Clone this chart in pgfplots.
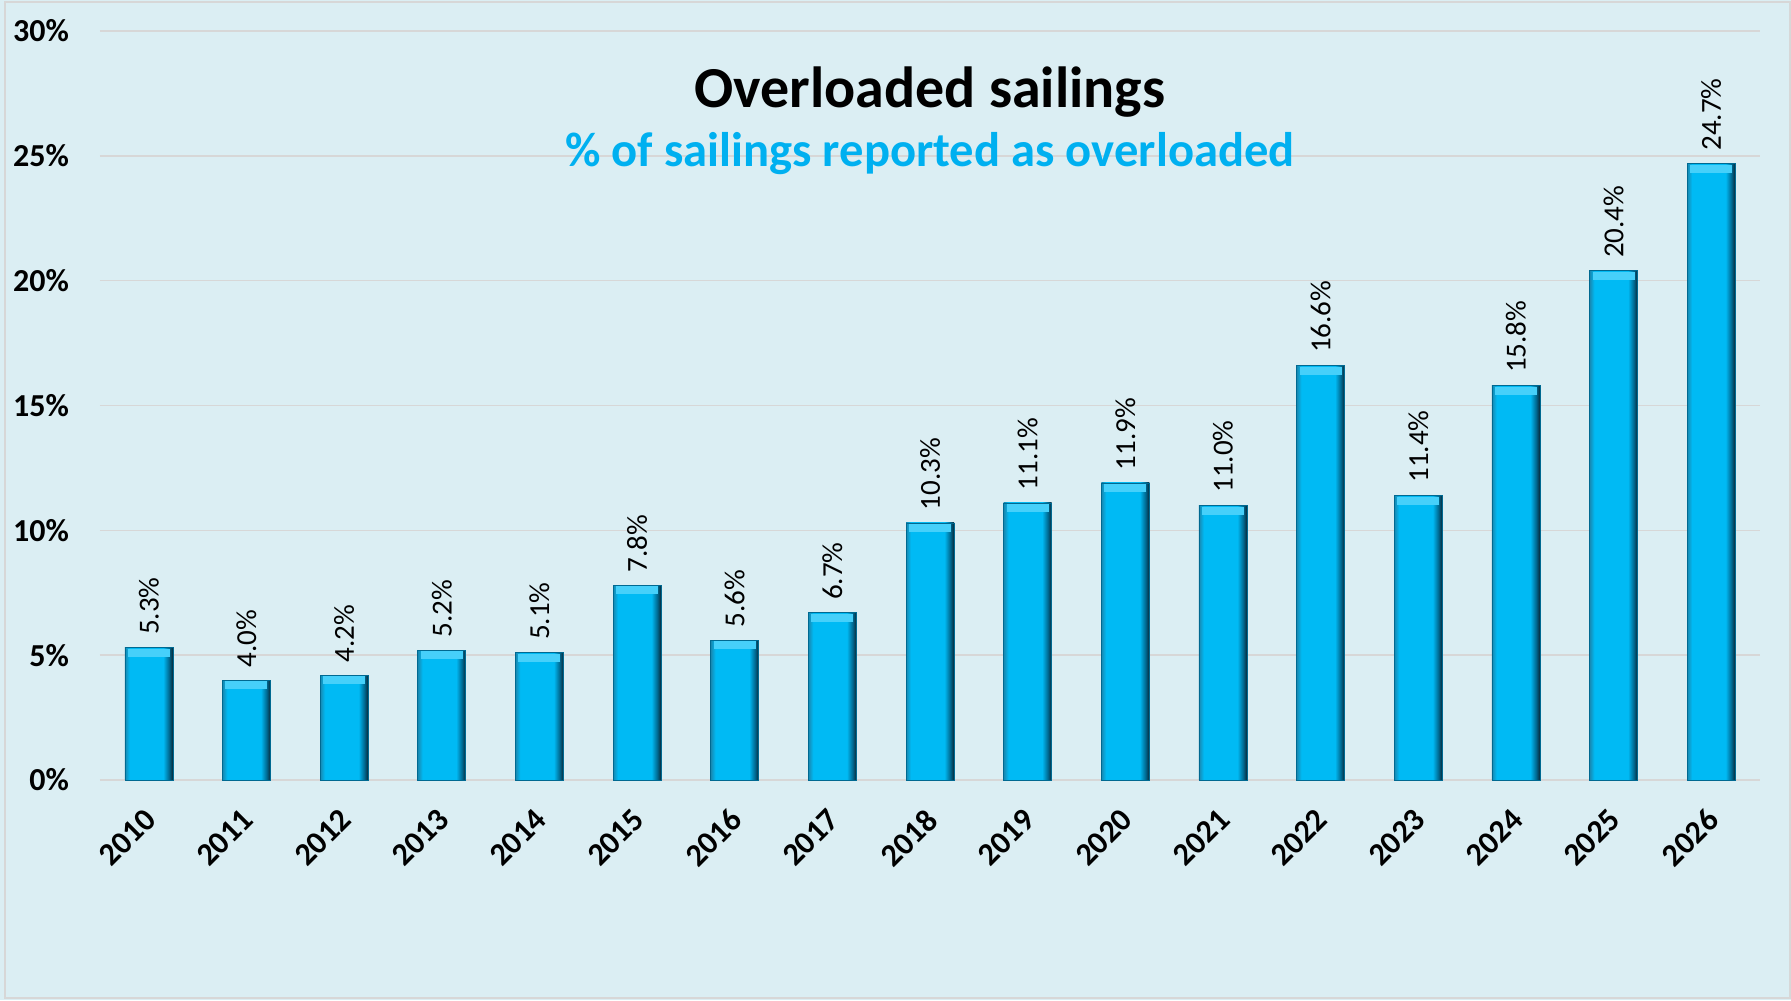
\documentclass[border=0pt]{standalone}
\usepackage{fontspec}
\setmainfont{Carlito}
\usepackage{pgfplots}
\pgfplotsset{compat=1.18}
\definecolor{bgc}{RGB}{219,238,243}
\definecolor{gridc}{RGB}{215,215,215}
\definecolor{cyanT}{RGB}{0,176,240}
\definecolor{barL}{RGB}{25,135,175}
\definecolor{barM}{RGB}{0,186,244}
\definecolor{barD}{RGB}{0,105,145}
\definecolor{barK}{RGB}{8,40,55}
\definecolor{barTop}{RGB}{70,208,250}
\pgfdeclarehorizontalshading{barshade}{100bp}{color(0bp)=(barL); color(25bp)=(barL); color(30bp)=(barM); color(65bp)=(barM); color(71bp)=(barD); color(75bp)=(barK); color(100bp)=(barK)}
\pgfplotsset{mybar/.style={ybar, bar width=24pt, bar shift=0pt, shading=barshade, draw=barD, line width=0.3pt,
  mark=-, mark size=10.5pt, mark options={solid, draw=barTop, line width=4pt, yshift=-2.6pt},
  nodes near coords={\pgfmathprintnumber[fixed,fixed zerofill,precision=1]{\pgfplotspointmeta}\%},
  nodes near coords style={font=\fontsize{14.5}{16}\selectfont, black, yshift=6pt, rotate=90, anchor=west, inner sep=1pt}}}
\begin{document}
\begin{tikzpicture}
\fill[bgc] (-50pt,-110pt) rectangle (845.5pt,390pt);
\useasboundingbox (-50pt,-110pt) rectangle (845.5pt,390pt);
\draw[gridc, line width=1pt] (-47.5pt,-109pt) rectangle (845pt,389pt);
\begin{axis}[
  at={(0,0)}, anchor=south west,
  width=830pt, height=374.5pt, scale only axis,
  xmin=-0.5, xmax=16.5, ymin=0, ymax=30,
  xtick={0,1,2,3,4,5,6,7,8,9,10,11,12,13,14,15,16},
  xticklabels={2010,2011,2012,2013,2014,2015,2016,2017,2018,2019,2020,2021,2022,2023,2024,2025,2026},
  ytick={0,5,10,15,20,25,30},
  yticklabels={0\%,5\%,10\%,15\%,20\%,25\%,30\%},
  ymajorgrids, grid style={gridc, line width=0.8pt},
  axis line style={draw=none}, major tick length=0pt,
  tick label style={font=\fontsize{16}{18}\selectfont\bfseries, black},
  xticklabel style={xshift=-3pt, yshift=-8.5pt, rotate=45, anchor=north east},
  yticklabel style={xshift=-12pt},
  /pgf/number format/assume math mode=true,
  clip=false,
]
\addplot[mybar] coordinates {(0,5.3)};
\addplot[mybar] coordinates {(1,4.0)};
\addplot[mybar] coordinates {(2,4.2)};
\addplot[mybar] coordinates {(3,5.2)};
\addplot[mybar] coordinates {(4,5.1)};
\addplot[mybar] coordinates {(5,7.8)};
\addplot[mybar] coordinates {(6,5.6)};
\addplot[mybar] coordinates {(7,6.7)};
\addplot[mybar] coordinates {(8,10.3)};
\addplot[mybar] coordinates {(9,11.1)};
\addplot[mybar] coordinates {(10,11.9)};
\addplot[mybar] coordinates {(11,11.0)};
\addplot[mybar] coordinates {(12,16.6)};
\addplot[mybar] coordinates {(13,11.4)};
\addplot[mybar] coordinates {(14,15.8)};
\addplot[mybar] coordinates {(15,20.4)};
\addplot[mybar] coordinates {(16,24.7)};
\node[font=\fontsize{29}{34}\selectfont\bfseries, black] at (rel axis cs:0.5,0.918) {Overloaded sailings};
\node[font=\fontsize{24.3}{29}\selectfont\bfseries, cyanT] at (rel axis cs:0.5,0.837) {\% of sailings reported as overloaded};
\end{axis}
\end{tikzpicture}
\end{document}
